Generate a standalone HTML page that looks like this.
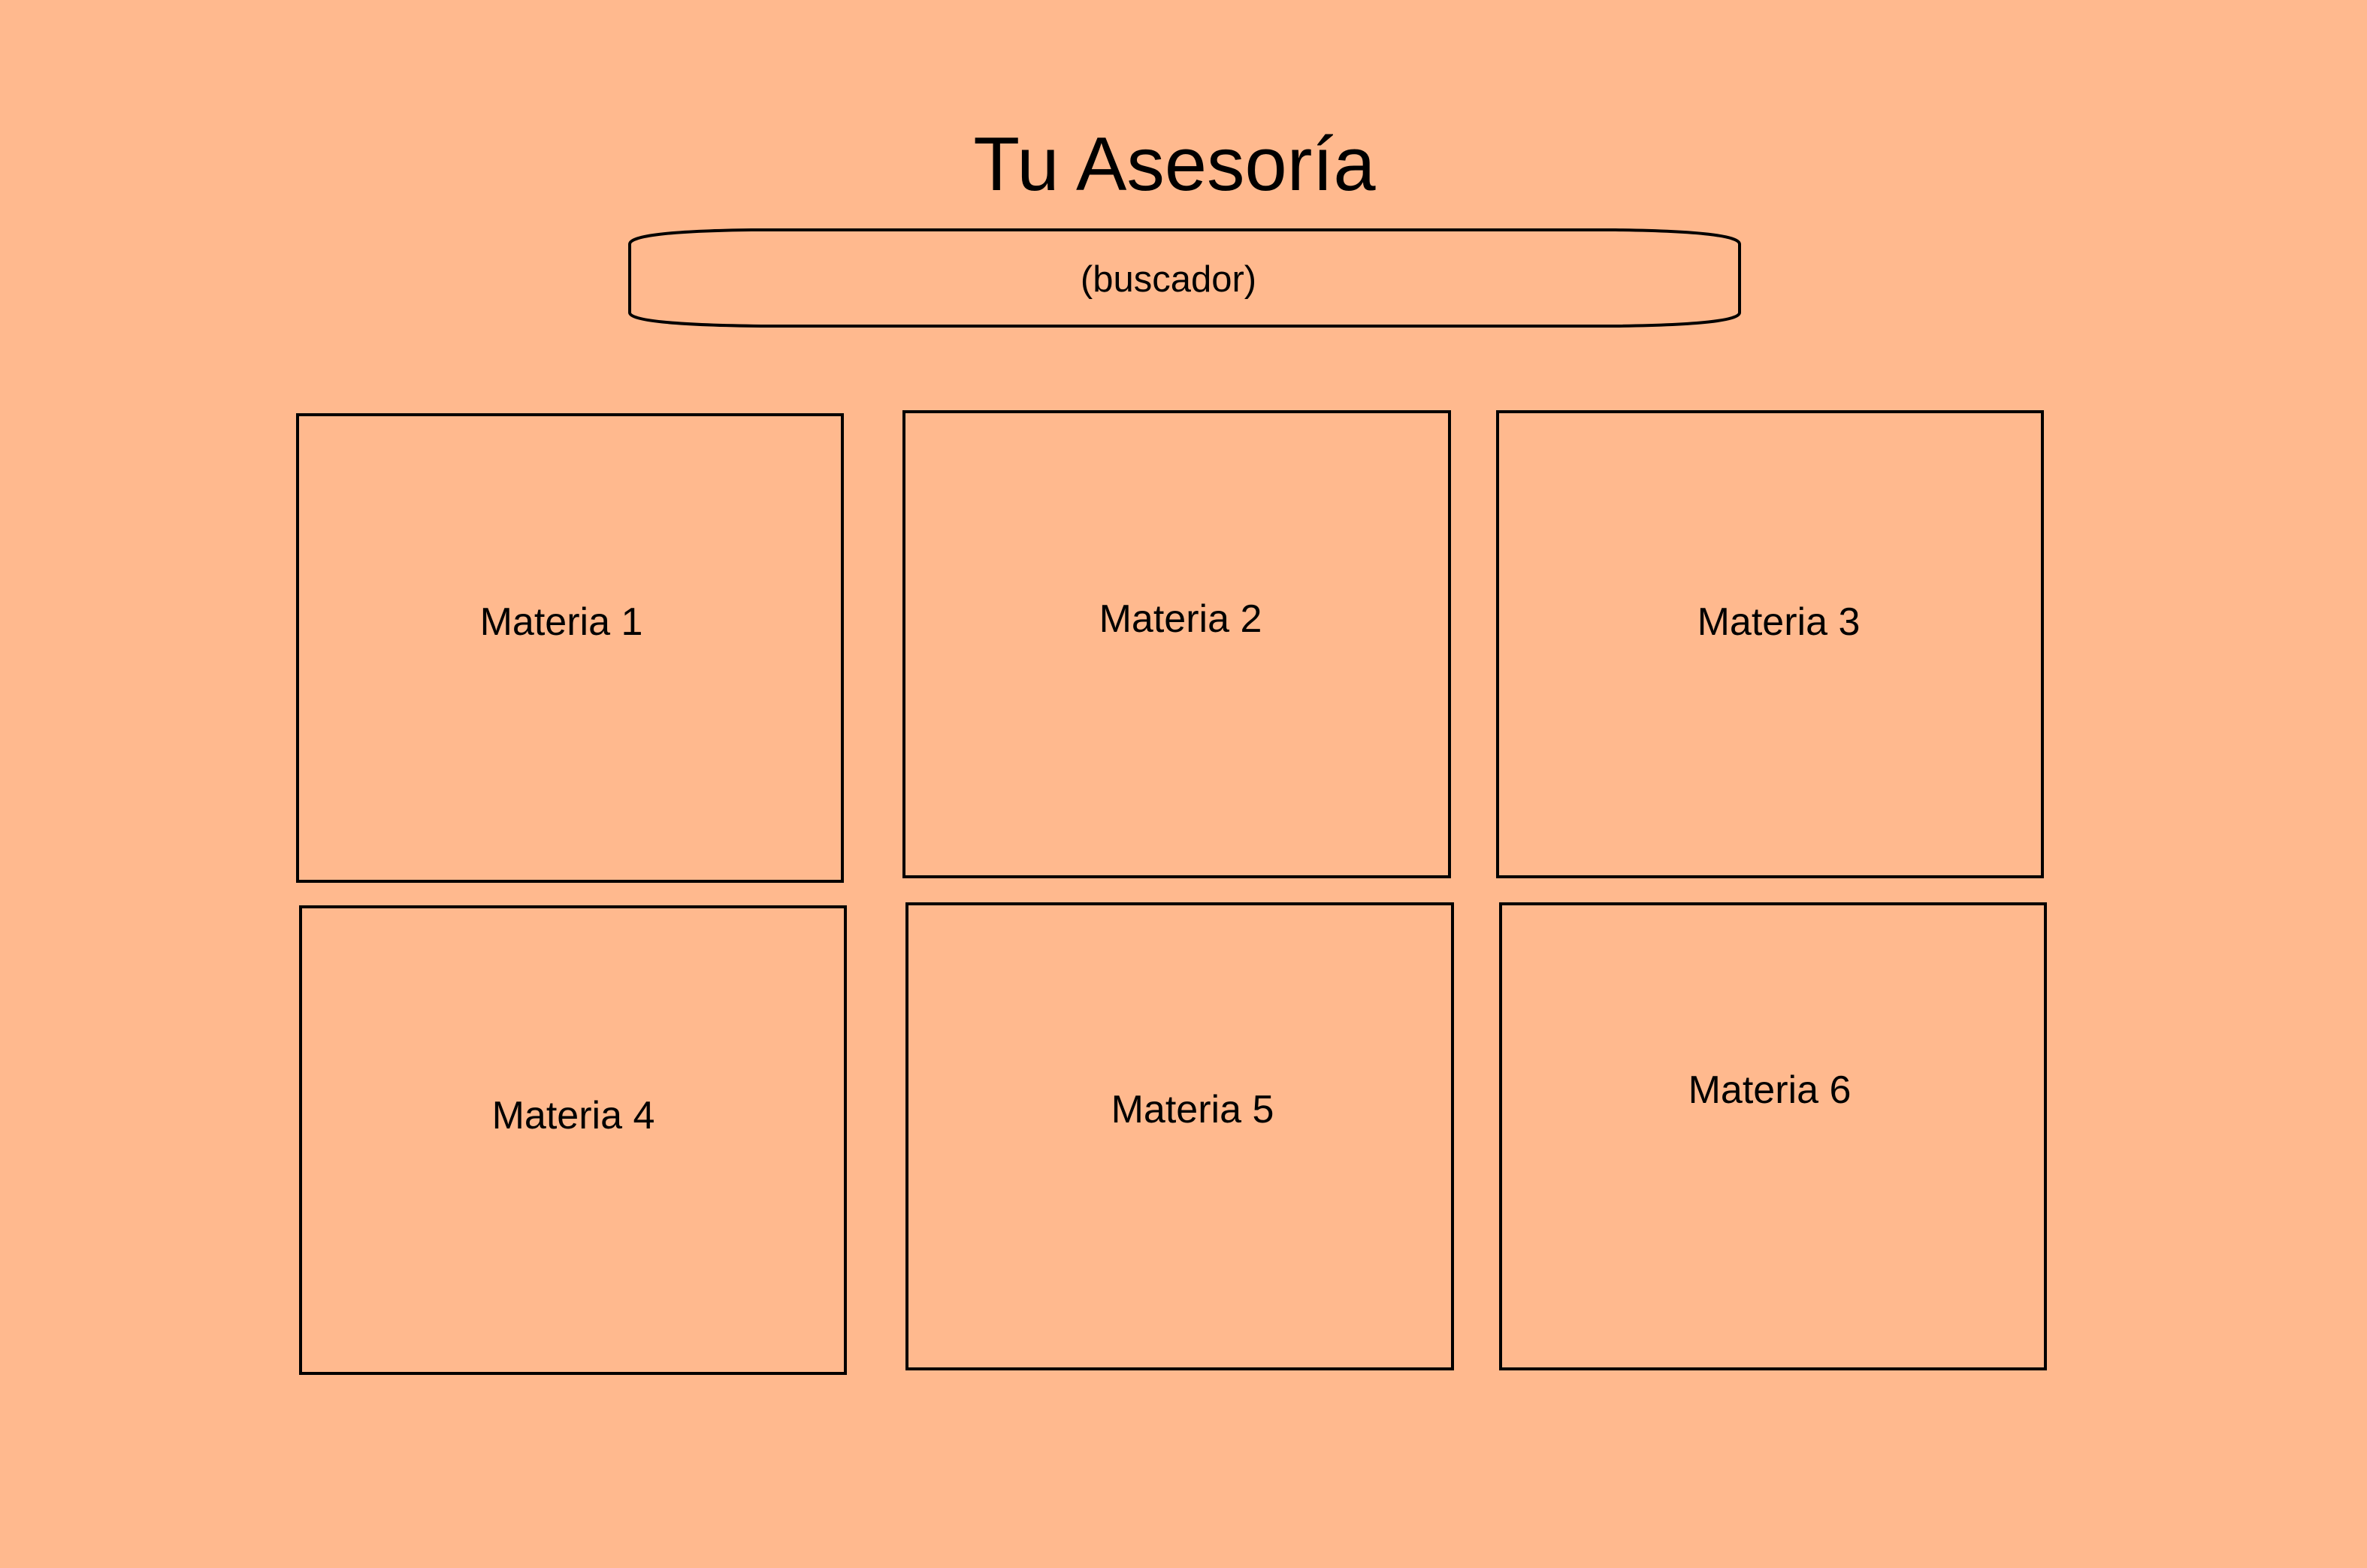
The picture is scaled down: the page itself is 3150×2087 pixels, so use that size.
<!DOCTYPE html>
<html><head><meta charset="utf-8"><style>
html,body{margin:0;padding:0;background:#FFB98E;}
svg{display:block;}
text{font-family:"Liberation Sans","DejaVu Sans",sans-serif;fill:#000;}
</style></head><body>
<svg width="3150" height="2087" viewBox="0 0 3150 2087" xmlns="http://www.w3.org/2000/svg">
<rect width="3150" height="2087" fill="#FFB98E"/>
<text x="1563" y="253" font-size="101" text-anchor="middle">Tu Asesoría</text>
<path d="M838,325 Q838,308 1000,306 L2150,306 Q2315,308 2315,325 L2315,416 Q2315,432 2150,434 L1013,434 Q838,432 838,416 Z" fill="none" stroke="#000" stroke-width="4"/>
<text x="1555" y="388" font-size="49" text-anchor="middle">(buscador)</text>
<g fill="none" stroke="#000" stroke-width="4">
<rect x="396" y="552" width="725" height="621"/>
<rect x="1203" y="548" width="726" height="619"/>
<rect x="1993" y="548" width="725" height="619"/>
<rect x="400" y="1207" width="725" height="621"/>
<rect x="1207" y="1203" width="726" height="619"/>
<rect x="1997" y="1203" width="725" height="619"/>
</g>
<g font-size="52" text-anchor="middle">
<text x="747" y="845">Materia 1</text>
<text x="1571" y="841">Materia 2</text>
<text x="2367" y="845">Materia 3</text>
<text x="763" y="1502">Materia 4</text>
<text x="1587" y="1494">Materia 5</text>
<text x="2355" y="1468">Materia 6</text>
</g>
</svg>
</body></html>
